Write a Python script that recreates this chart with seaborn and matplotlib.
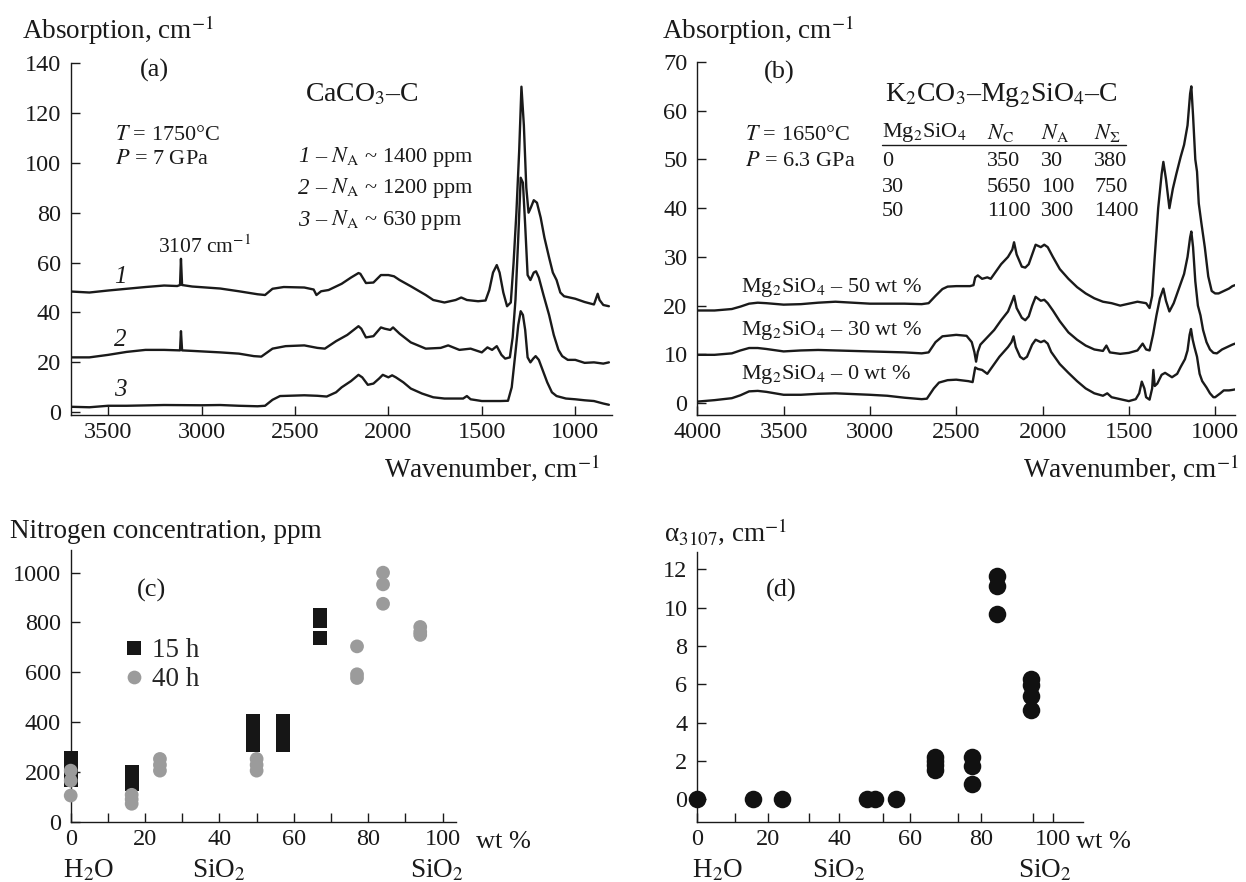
import numpy as np
import pandas as pd
import matplotlib
matplotlib.use("Agg")
import matplotlib.pyplot as plt
import seaborn as sns

# ---- spectra, panel (a): CaCO3-C ----
a1_wn = [3700, 3600, 3500, 3400, 3300, 3200, 3130, 3115, 3110, 3104, 3050, 2900, 2800, 2700, 2660,
         2620, 2560, 2450, 2400, 2385, 2360, 2320, 2250, 2200, 2160, 2150, 2120, 2080, 2040, 2000,
         1970, 1940, 1880, 1800, 1760, 1700, 1640, 1610, 1580, 1520, 1480, 1460, 1440, 1420, 1405,
         1385, 1365, 1345, 1330, 1315, 1300, 1288, 1275, 1262, 1250, 1238, 1222, 1205, 1185, 1165,
         1140, 1120, 1100, 1080, 1060, 1000, 950, 900, 880, 870, 850, 820]
a1_abs = [48.4, 48.0, 48.8, 49.5, 50.2, 50.8, 50.6, 51.0, 61.5, 51.0, 50.4, 49.6, 48.5, 47.3, 47.0,
          49.5, 50.2, 50.0, 49.2, 47.0, 48.5, 49.0, 51.5, 54.0, 55.8, 55.5, 51.8, 52.0, 55.0, 55.0,
          54.5, 53.0, 50.5, 47.0, 45.0, 44.0, 45.0, 46.0, 45.0, 44.5, 44.8, 49.0, 56.0, 59.0, 56.0,
          48.0, 42.5, 44.0, 60.0, 80.0, 105.0, 130.5, 115.0, 90.0, 80.0, 82.0, 85.0, 84.0, 78.0, 70.0,
          62.0, 56.0, 53.0, 48.0, 46.5, 45.5, 44.2, 43.2, 47.5, 45.0, 43.0, 42.5]

a2_wn = [3700, 3600, 3500, 3400, 3300, 3200, 3115, 3110, 3104, 3050, 2900, 2800, 2720, 2680, 2620,
         2550, 2450, 2380, 2340, 2280, 2220, 2160, 2145, 2120, 2080, 2040, 2020, 1990, 1975, 1940,
         1880, 1800, 1720, 1680, 1620, 1560, 1500, 1470, 1445, 1420, 1395, 1375, 1350, 1335, 1320,
         1305, 1292, 1280, 1268, 1255, 1240, 1222, 1210, 1195, 1170, 1140, 1115, 1090, 1070, 1040,
         1000, 950, 900, 850, 820]
a2_abs = [22.0, 22.0, 23.0, 24.2, 25.0, 25.0, 24.8, 32.5, 24.8, 24.6, 24.0, 23.5, 22.5, 22.3, 25.5,
          26.5, 26.8, 25.8, 25.5, 28.5, 31.0, 34.5, 33.5, 30.0, 30.5, 34.0, 33.5, 33.0, 34.0, 31.5,
          28.0, 25.5, 25.8, 26.8, 25.0, 25.5, 24.0, 26.0, 25.0, 26.5, 23.0, 21.5, 22.0, 30.0, 45.0,
          70.0, 94.0, 92.0, 75.0, 55.0, 53.0, 56.0, 56.5, 54.0, 47.0, 39.0, 31.0, 25.0, 22.5, 21.0,
          21.0, 19.8, 20.0, 19.5, 20.0]

a3_wn = [3700, 3600, 3500, 3400, 3200, 3000, 2900, 2800, 2700, 2660, 2620, 2580, 2450, 2380, 2330,
         2280, 2250, 2200, 2160, 2140, 2110, 2080, 2050, 2030, 2000, 1980, 1960, 1920, 1880, 1820,
         1760, 1700, 1600, 1580, 1560, 1500, 1450, 1400, 1360, 1340, 1320, 1305, 1292, 1280, 1268,
         1255, 1240, 1225, 1212, 1195, 1175, 1150, 1125, 1100, 1050, 1000, 950, 900, 850, 820]
a3_abs = [2.2, 2.0, 2.6, 2.6, 2.9, 2.8, 2.9, 2.6, 2.4, 2.6, 5.0, 6.5, 6.8, 6.6, 6.3,
          8.0, 10.0, 12.5, 15.0, 14.0, 11.0, 11.5, 13.5, 15.0, 14.0, 14.8, 14.0, 12.0, 9.5, 7.5,
          6.0, 5.5, 5.5, 6.5, 5.2, 4.5, 4.5, 4.5, 4.6, 10.0, 24.0, 35.0, 40.5, 39.0, 33.0,
          22.0, 20.0, 21.5, 22.5, 21.0, 17.0, 12.0, 8.0, 6.5, 5.5, 5.2, 4.8, 4.5, 3.5, 3.0]

# ---- spectra, panel (b): K2CO3-Mg2SiO4-C ----
b50_wn = [4000, 3900, 3800, 3750, 3700, 3650, 3600, 3500, 3400, 3300, 3200, 3100, 3000, 2900, 2800,
          2700, 2660, 2620, 2580, 2550, 2500, 2420, 2400, 2390, 2375, 2350, 2320, 2300, 2270, 2240,
          2200, 2175, 2165, 2150, 2120, 2100, 2080, 2060, 2040, 2010, 1990, 1970, 1940, 1900, 1850,
          1800, 1750, 1700, 1650, 1600, 1550, 1500, 1450, 1400, 1380, 1365, 1350, 1330, 1310, 1300,
          1285, 1265, 1245, 1225, 1200, 1180, 1160, 1145, 1138, 1128, 1115, 1105, 1095, 1080, 1060,
          1040, 1020, 1000, 980, 950, 920, 900, 885]
b50_abs = [19.0, 19.0, 19.3, 19.8, 20.4, 20.6, 20.5, 20.2, 20.3, 20.6, 20.8, 20.6, 20.4, 20.4, 20.4,
           20.3, 20.5, 22.0, 23.4, 23.9, 24.0, 24.0, 24.2, 25.8, 26.2, 25.5, 25.8, 25.5, 27.0, 28.5,
           30.0, 31.5, 33.0, 30.5, 28.0, 27.8, 28.5, 30.5, 32.5, 32.0, 32.5, 32.0, 30.0, 27.5, 25.5,
           23.8, 22.5, 21.5, 20.8, 20.5, 20.0, 20.4, 20.8, 20.5, 19.5, 22.0, 30.0, 40.0, 47.0, 49.5,
           46.0, 40.0, 44.0, 47.0, 50.5, 53.0, 57.0, 63.5, 65.0, 59.0, 50.0, 47.5, 41.0, 37.0, 32.0,
           26.0, 23.0, 22.5, 22.5, 23.0, 23.5, 24.0, 24.2]

b30_wn = [4000, 3900, 3800, 3750, 3700, 3650, 3600, 3500, 3400, 3300, 3200, 3000, 2900, 2800, 2700,
          2660, 2620, 2580, 2500, 2440, 2410, 2395, 2385, 2375, 2360, 2320, 2280, 2240, 2200, 2175,
          2165, 2150, 2120, 2100, 2080, 2060, 2040, 2010, 1990, 1970, 1940, 1900, 1850, 1800, 1750,
          1700, 1650, 1630, 1610, 1550, 1500, 1450, 1420, 1400, 1380, 1360, 1340, 1320, 1300, 1285,
          1265, 1240, 1210, 1180, 1160, 1145, 1138, 1128, 1115, 1100, 1085, 1070, 1050, 1030, 1010,
          990, 960, 930, 900, 885]
b30_abs = [9.9, 9.9, 10.2, 10.8, 11.3, 11.3, 11.1, 10.6, 10.8, 10.9, 10.8, 10.6, 10.5, 10.4, 10.2,
           10.4, 12.5, 13.7, 14.0, 13.8, 12.5, 10.5, 8.5, 10.5, 12.0, 13.5, 15.0, 17.0, 18.8, 21.0,
           22.0, 19.5, 17.5, 17.0, 17.8, 20.0, 21.8, 21.0, 21.2, 20.5, 19.0, 16.8, 14.5, 13.0, 11.8,
           11.0, 10.7, 11.8, 10.4, 10.1, 10.3, 10.8, 12.2, 11.0, 10.8, 14.0, 18.0, 21.5, 23.5, 21.0,
           18.8, 20.5, 23.5, 26.5, 30.0, 34.0, 35.2, 32.0, 25.0, 20.0, 18.0, 15.0, 12.5, 11.0, 10.3,
           10.2, 11.0, 11.5, 12.0, 12.2]

b0_wn = [4000, 3900, 3800, 3750, 3700, 3650, 3600, 3500, 3400, 3300, 3200, 3000, 2900, 2800, 2700,
         2670, 2630, 2600, 2550, 2500, 2430, 2405, 2390, 2375, 2350, 2320, 2290, 2250, 2200, 2180,
         2168, 2155, 2130, 2110, 2090, 2060, 2040, 2010, 1990, 1970, 1950, 1900, 1850, 1800, 1750,
         1700, 1650, 1625, 1600, 1550, 1500, 1460, 1440, 1425, 1410, 1400, 1380, 1365, 1358, 1350,
         1335, 1310, 1290, 1250, 1220, 1200, 1175, 1160, 1148, 1140, 1130, 1120, 1105, 1090, 1075,
         1050, 1030, 1010, 1000, 970, 950, 920, 900, 885]
b0_abs = [0.3, 0.6, 1.0, 1.6, 2.4, 2.5, 2.3, 1.7, 1.7, 1.9, 2.0, 1.7, 1.5, 1.1, 0.8,
          0.9, 3.0, 4.2, 4.7, 4.8, 4.5, 4.3, 7.3, 7.0, 6.8, 6.0, 7.5, 9.5, 11.5, 12.5,
          13.7, 11.5, 9.5, 9.0, 9.5, 12.0, 13.0, 12.5, 12.8, 12.2, 10.5, 8.0, 6.2, 4.5, 3.0,
          2.0, 1.5, 2.0, 1.2, 0.8, 0.4, 0.8, 2.0, 4.4, 3.0, 1.2, 0.7, 3.0, 6.8, 3.5,
          4.0, 5.8, 6.2, 5.3, 6.0, 7.4, 9.0, 10.8, 14.0, 15.2, 13.0, 11.5, 9.5, 6.0, 4.5,
          3.2, 2.0, 1.2, 1.2, 2.0, 2.6, 2.6, 2.7, 2.8]

# ---- panel (c): nitrogen concentration vs SiO2 content ----
c15_sio2 = [0, 0, 0, 16.4, 16.4, 49, 49, 49, 57, 57, 57, 67, 67, 67]
c15_ppm = [166, 212, 258, 149, 199, 306, 356, 406, 306, 356, 406, 739, 804, 831]
c40_sio2 = [0, 0, 0, 16.4, 16.4, 16.4, 24, 24, 24, 50, 50, 50, 77, 77, 77, 84, 84, 84, 94, 94, 94]
c40_ppm = [105, 165, 205, 72, 90, 108, 205, 228, 252, 205, 228, 252, 577, 592, 704,
           875, 953, 1000, 750, 762, 782]

# ---- panel (d): alpha_3107 vs SiO2 content ----
d_sio2 = [0, 15.8, 23.9, 47.7, 50.0, 56.0, 67, 67, 67, 67, 77.3, 77.3, 77.3,
          84.3, 84.3, 84.3, 94, 94, 94, 94]
d_alpha = [0, 0, 0, 0, 0, 0, 1.55, 1.8, 2.0, 2.2, 0.78, 1.74, 2.2,
           9.65, 11.15, 11.65, 4.66, 5.4, 5.97, 6.3]

table_rows = [["0", "350", "30", "380"],
              ["30", "5650", "100", "750"],
              ["50", "1100", "300", "1400"]]

sns.set_theme(style="ticks")
plt.rcParams["font.family"] = ["Liberation Serif", "DejaVu Serif"]
plt.rcParams["mathtext.fontset"] = "stix"
plt.rcParams["axes.linewidth"] = 1.0
plt.rcParams["axes.edgecolor"] = "#1a1a1a"

W, H = 1246, 882
fig = plt.figure(figsize=(W / 100, H / 100), dpi=100)
INK = "#1a1a1a"
TICK = 17.5


def add_ax(left, top, right, bottom):
    return fig.add_axes([left / W, 1 - bottom / H, (right - left) / W, (bottom - top) / H])


def ftext(x, y, s, size, ha="left", va="center", **kw):
    fig.text(x / W, 1 - y / H, s, fontsize=size, ha=ha, va=va, color=INK, **kw)


def style_ax(ax):
    sns.despine(ax=ax)
    ax.tick_params(which="both", direction="in", length=6.5, width=1.0, colors=INK,
                   labelsize=TICK, labelcolor=INK)
    ax.tick_params(axis="x", pad=5)
    ax.tick_params(axis="y", pad=7)
    ax.set_xlabel("")
    ax.set_ylabel("")


# (a)
ax_a = add_ax(70.7, 63, 611.7, 415)
for wn, ab in [(a1_wn, a1_abs), (a2_wn, a2_abs), (a3_wn, a3_abs)]:
    sns.lineplot(x=wn, y=ab, ax=ax_a, color=INK, lw=1.7, estimator=None, sort=False)
ax_a.set_xlim(3700, 805)
ax_a.set_ylim(-1.1, 140)
ax_a.set_xticks([3500, 3000, 2500, 2000, 1500, 1000])
ax_a.set_yticks(range(0, 141, 20))
style_ax(ax_a)

# (b)
ax_b = add_ax(697.3, 62, 1235, 415)
for wn, ab in [(b50_wn, b50_abs), (b30_wn, b30_abs), (b0_wn, b0_abs)]:
    sns.lineplot(x=wn, y=ab, ax=ax_b, color=INK, lw=1.7, estimator=None, sort=False)
ax_b.set_xlim(4000, 885)
ax_b.set_ylim(-2.45, 70)
ax_b.set_xticks([4000, 3500, 3000, 2500, 2000, 1500, 1000])
ax_b.set_yticks(range(0, 71, 10))
style_ax(ax_b)

# (c)
ax_c = add_ax(70.7, 550, 456.3, 821.7)
df_c = pd.DataFrame({
    "sio2": c15_sio2 + c40_sio2,
    "ppm": c15_ppm + c40_ppm,
    "time": ["15 h"] * len(c15_ppm) + ["40 h"] * len(c40_ppm),
})
sns.scatterplot(data=df_c, x="sio2", y="ppm", hue="time", style="time",
                markers={"15 h": "s", "40 h": "o"},
                palette={"15 h": "#161616", "40 h": "#9b9b9b"},
                s=98, linewidth=0, ax=ax_c, zorder=3, clip_on=False)
ax_c.set_xlim(0, 103.7)
ax_c.set_ylim(0, 1091)
ax_c.set_xticks(range(0, 101, 20))
ax_c.set_xticks(range(10, 100, 20), minor=True)
ax_c.set_yticks(range(0, 1001, 200))
style_ax(ax_c)
sns.move_legend(ax_c, "upper left", bbox_to_anchor=(0.13, 0.675), frameon=False, title=None,
                fontsize=19.5, handlelength=1.0, handletextpad=0.15, borderpad=0,
                borderaxespad=0, labelspacing=0.15)

# (d)
ax_d = add_ax(697.3, 551.7, 1082.7, 821.7)
sns.scatterplot(x=d_sio2, y=d_alpha, color="#111111", s=160, linewidth=0, ax=ax_d,
                zorder=3, clip_on=False)
ax_d.set_xlim(0, 108.5)
ax_d.set_ylim(-1.17, 12.92)
ax_d.set_xticks(range(0, 101, 20))
ax_d.set_xticks([10.6, 31.5, 52.4, 73.3, 94.4], minor=True)
ax_d.set_yticks(range(0, 13, 2))
style_ax(ax_d)

# ---- texts, panel (a) ----
ftext(22, 30, "Absorption, cm$^{-1}$", 19.5)
ftext(154, 70, "(a)", 19, ha="center")
ftext(362, 95, "CaCO$_3$–C", 20, ha="center")
ftext(115, 135, "$T$ = 1750°C", 16)
ftext(115, 160, "$P$ = 7 GPa", 16)
for num, conc, y in [("1", "1400", 157), ("2", "1200", 188), ("3", "630", 220)]:
    ftext(298, y, num, 16.5, style="italic")
    ftext(315, y, r"– $N_\mathrm{A}$ ~ " + conc + " ppm", 16)
ftext(205, 247, "3107 cm$^{-1}$", 15.5, ha="center")
ftext(120, 277, "1", 18, style="italic", ha="center")
ftext(120, 340, "2", 18, style="italic", ha="center")
ftext(120, 390, "3", 18, style="italic", ha="center")
ftext(600, 468, "Wavenumber, cm$^{-1}$", 19.5, ha="right")

# ---- texts, panel (b) ----
ftext(662, 30, "Absorption, cm$^{-1}$", 19.5)
ftext(779, 72, "(b)", 19, ha="center")
ftext(1001, 95, "K$_2$CO$_3$–Mg$_2$SiO$_4$–C", 20, ha="center")
ftext(745, 135, "$T$ = 1650°C", 16)
ftext(745, 162, "$P$ = 6.3 GPa", 16)
col_x = [882, 987, 1041, 1094]
for x, head in zip(col_x, ["Mg$_2$SiO$_4$", r"$N_\mathrm{C}$", r"$N_\mathrm{A}$", r"$N_\Sigma$"]):
    ftext(x, 133, head, 16)
fig.add_artist(plt.Line2D([882 / W, 1126 / W], [1 - 145 / H, 1 - 145 / H], color=INK, lw=1.0))
for row, y in zip(table_rows, [162, 187, 212]):
    for x, val in zip(col_x, row):
        ftext(x, y, val, 16)
ftext(741, 288, "Mg$_2$SiO$_4$ – 50 wt %", 16)
ftext(741, 330, "Mg$_2$SiO$_4$ – 30 wt %", 16)
ftext(741, 375, "Mg$_2$SiO$_4$ – 0 wt %", 16)
ftext(1239, 468, "Wavenumber, cm$^{-1}$", 19.5, ha="right")

# ---- texts, panels (c), (d) ----
ftext(10, 532, "Nitrogen concentration, ppm", 19.5)
ftext(152, 590, "(c)", 19, ha="center")
ftext(476, 842, "wt %", 19)
ftext(63, 871, "H$_2$O", 19.5)
ftext(192, 871, "SiO$_2$", 19.5)
ftext(410, 871, "SiO$_2$", 19.5)

ftext(664, 532, "α$_{3107}$, cm$^{-1}$", 19.5)
ftext(781, 590, "(d)", 19, ha="center")
ftext(1076, 842, "wt %", 19)
ftext(692, 871, "H$_2$O", 19.5)
ftext(812, 871, "SiO$_2$", 19.5)
ftext(1018, 871, "SiO$_2$", 19.5)

fig.savefig("out.png", dpi=100)
